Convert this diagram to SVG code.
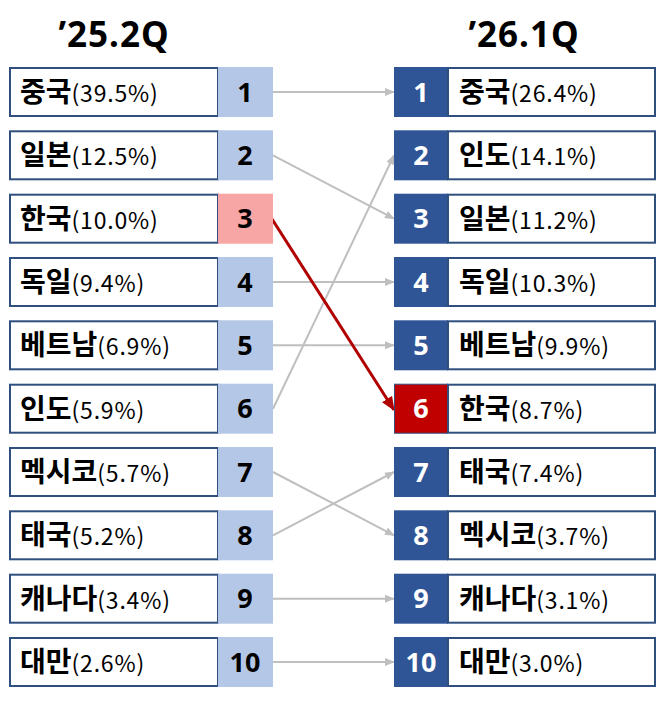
<svg xmlns="http://www.w3.org/2000/svg" width="657" height="701" viewBox="0 0 657 701">
<defs>
<style>
.nm{fill:#fff;stroke:#2F4F7F;stroke-width:2}
.lnum{fill:#B4C7E7}
.rnum{fill:#2F5597}
.t{font-family:"Noto Sans CJK KR","Noto Sans",sans-serif;fill:#000}
.k{font-size:28px;font-weight:bold}
.p{font-size:23px;font-weight:normal;letter-spacing:0.8px}
.n{font-family:"Noto Sans","Noto Sans CJK KR",sans-serif;font-size:27px;font-weight:bold;text-anchor:middle}
.w{fill:#fff}
.ttl{font-family:"Noto Sans","Noto Sans CJK KR",sans-serif;font-size:35px;font-weight:bold;text-anchor:middle;letter-spacing:1px}
.g{stroke:#BFBFBF;stroke-width:2;fill:none;marker-end:url(#ag)}
.r{stroke:#B00000;stroke-width:3;fill:none;marker-end:url(#ar)}
</style>
<marker id="ag" markerWidth="10" markerHeight="10" refX="9" refY="5" orient="auto" markerUnits="userSpaceOnUse"><path d="M0,1 L10,5 L0,9 Z" fill="#BFBFBF"/></marker>
<marker id="ar" markerWidth="14" markerHeight="14" refX="13" refY="7" orient="auto" markerUnits="userSpaceOnUse"><path d="M0,1 L14,7 L0,13 Z" fill="#B00000"/></marker>
</defs>
<rect width="657" height="701" fill="#fff"/>
<text class="ttl" x="114" y="47">’25.2Q</text>
<text class="ttl" x="524" y="47">’26.1Q</text>

<g id="connectors">
<line class="g" x1="273" y1="92" x2="394" y2="92"/>
<line class="g" x1="273" y1="155.3" x2="394" y2="218.7"/>
<line class="g" x1="273" y1="282" x2="394" y2="282"/>
<line class="g" x1="273" y1="345.3" x2="394" y2="345.3"/>
<line class="g" x1="273" y1="408.7" x2="394" y2="155.3"/>
<line class="g" x1="273" y1="472" x2="394" y2="535.3"/>
<line class="g" x1="273" y1="535.3" x2="394" y2="472"/>
<line class="g" x1="273" y1="598.7" x2="394" y2="598.7"/>
<line class="g" x1="273" y1="662" x2="394" y2="662"/>
<line class="r" x1="272" y1="219" x2="394" y2="410"/>
</g>

<g id="left">
<g id="l1"><rect class="nm" x="10" y="68" width="208" height="48"/><rect class="lnum" x="218" y="67" width="55" height="50"/><text class="t" x="20" y="102"><tspan class="k">중국</tspan><tspan class="p">(39.5%)</tspan></text><text class="n" x="245" y="101.5">1</text></g>
<g id="l2"><rect class="nm" x="10" y="131.3" width="208" height="48"/><rect class="lnum" x="218" y="130.3" width="55" height="50"/><text class="t" x="20" y="165.3"><tspan class="k">일본</tspan><tspan class="p">(12.5%)</tspan></text><text class="n" x="245" y="164.8">2</text></g>
<g id="l3"><rect class="nm" x="10" y="194.7" width="208" height="48"/><rect fill="#F8A5A5" x="218" y="193.7" width="55" height="50"/><text class="t" x="20" y="228.7"><tspan class="k">한국</tspan><tspan class="p">(10.0%)</tspan></text><text class="n" x="245" y="228.2">3</text></g>
<g id="l4"><rect class="nm" x="10" y="258" width="208" height="48"/><rect class="lnum" x="218" y="257" width="55" height="50"/><text class="t" x="20" y="292"><tspan class="k">독일</tspan><tspan class="p">(9.4%)</tspan></text><text class="n" x="245" y="291.5">4</text></g>
<g id="l5"><rect class="nm" x="10" y="321.3" width="208" height="48"/><rect class="lnum" x="218" y="320.3" width="55" height="50"/><text class="t" x="20" y="355.3"><tspan class="k">베트남</tspan><tspan class="p">(6.9%)</tspan></text><text class="n" x="245" y="354.8">5</text></g>
<g id="l6"><rect class="nm" x="10" y="384.7" width="208" height="48"/><rect class="lnum" x="218" y="383.7" width="55" height="50"/><text class="t" x="20" y="418.7"><tspan class="k">인도</tspan><tspan class="p">(5.9%)</tspan></text><text class="n" x="245" y="418.2">6</text></g>
<g id="l7"><rect class="nm" x="10" y="448" width="208" height="48"/><rect class="lnum" x="218" y="447" width="55" height="50"/><text class="t" x="20" y="482"><tspan class="k">멕시코</tspan><tspan class="p">(5.7%)</tspan></text><text class="n" x="245" y="481.5">7</text></g>
<g id="l8"><rect class="nm" x="10" y="511.3" width="208" height="48"/><rect class="lnum" x="218" y="510.3" width="55" height="50"/><text class="t" x="20" y="545.3"><tspan class="k">태국</tspan><tspan class="p">(5.2%)</tspan></text><text class="n" x="245" y="544.8">8</text></g>
<g id="l9"><rect class="nm" x="10" y="574.7" width="208" height="48"/><rect class="lnum" x="218" y="573.7" width="55" height="50"/><text class="t" x="20" y="608.7"><tspan class="k">캐나다</tspan><tspan class="p">(3.4%)</tspan></text><text class="n" x="245" y="608.2">9</text></g>
<g id="l10"><rect class="nm" x="10" y="638" width="208" height="48"/><rect class="lnum" x="218" y="637" width="55" height="50"/><text class="t" x="20" y="672"><tspan class="k">대만</tspan><tspan class="p">(2.6%)</tspan></text><text class="n" x="245" y="671.5">10</text></g>
</g>

<g id="right">
<g id="r1"><rect class="rnum" x="394" y="67" width="54" height="50"/><rect class="nm" x="448" y="68" width="207" height="48"/><text class="n w" x="421" y="101.5">1</text><text class="t" x="459" y="102"><tspan class="k">중국</tspan><tspan class="p">(26.4%)</tspan></text></g>
<g id="r2"><rect class="rnum" x="394" y="130.3" width="54" height="50"/><rect class="nm" x="448" y="131.3" width="207" height="48"/><text class="n w" x="421" y="164.8">2</text><text class="t" x="459" y="165.3"><tspan class="k">인도</tspan><tspan class="p">(14.1%)</tspan></text></g>
<g id="r3"><rect class="rnum" x="394" y="193.7" width="54" height="50"/><rect class="nm" x="448" y="194.7" width="207" height="48"/><text class="n w" x="421" y="228.2">3</text><text class="t" x="459" y="228.7"><tspan class="k">일본</tspan><tspan class="p">(11.2%)</tspan></text></g>
<g id="r4"><rect class="rnum" x="394" y="257" width="54" height="50"/><rect class="nm" x="448" y="258" width="207" height="48"/><text class="n w" x="421" y="291.5">4</text><text class="t" x="459" y="292"><tspan class="k">독일</tspan><tspan class="p">(10.3%)</tspan></text></g>
<g id="r5"><rect class="rnum" x="394" y="320.3" width="54" height="50"/><rect class="nm" x="448" y="321.3" width="207" height="48"/><text class="n w" x="421" y="354.8">5</text><text class="t" x="459" y="355.3"><tspan class="k">베트남</tspan><tspan class="p">(9.9%)</tspan></text></g>
<g id="r6"><rect fill="#C00000" stroke="#2F4F7F" stroke-width="1" x="394.5" y="384.2" width="53" height="49"/><rect class="nm" x="448" y="384.7" width="207" height="48"/><text class="n w" x="421" y="418.2">6</text><text class="t" x="459" y="418.7"><tspan class="k">한국</tspan><tspan class="p">(8.7%)</tspan></text></g>
<g id="r7"><rect class="rnum" x="394" y="447" width="54" height="50"/><rect class="nm" x="448" y="448" width="207" height="48"/><text class="n w" x="421" y="481.5">7</text><text class="t" x="459" y="482"><tspan class="k">태국</tspan><tspan class="p">(7.4%)</tspan></text></g>
<g id="r8"><rect class="rnum" x="394" y="510.3" width="54" height="50"/><rect class="nm" x="448" y="511.3" width="207" height="48"/><text class="n w" x="421" y="544.8">8</text><text class="t" x="459" y="545.3"><tspan class="k">멕시코</tspan><tspan class="p">(3.7%)</tspan></text></g>
<g id="r9"><rect class="rnum" x="394" y="573.7" width="54" height="50"/><rect class="nm" x="448" y="574.7" width="207" height="48"/><text class="n w" x="421" y="608.2">9</text><text class="t" x="459" y="608.7"><tspan class="k">캐나다</tspan><tspan class="p">(3.1%)</tspan></text></g>
<g id="r10"><rect class="rnum" x="394" y="637" width="54" height="50"/><rect class="nm" x="448" y="638" width="207" height="48"/><text class="n w" x="421" y="671.5">10</text><text class="t" x="459" y="672"><tspan class="k">대만</tspan><tspan class="p">(3.0%)</tspan></text></g>
</g>
</svg>
